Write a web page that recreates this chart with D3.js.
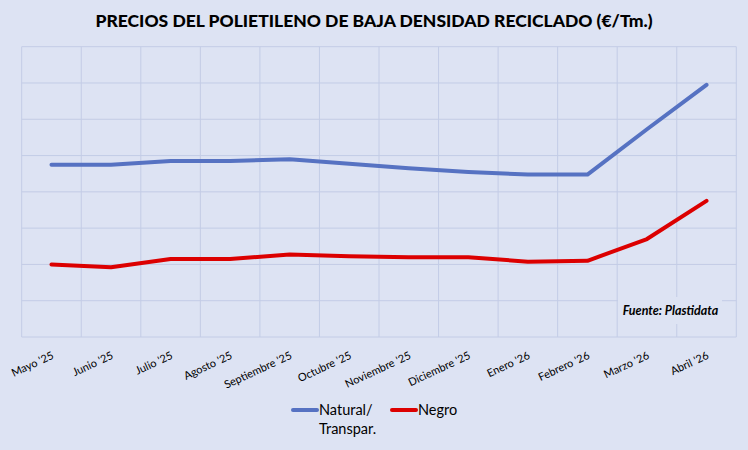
<!DOCTYPE html>
<html>
<head>
<meta charset="utf-8">
<script src="https://cdn.jsdelivr.net/npm/d3@7"></script>
<style>
  html, body { margin: 0; padding: 0; background: #dde3f3; }
  svg { display: block; font-family: Lato, "Open Sans", sans-serif; }
</style>
</head>
<body>
<div id="chart"></div>
<script>
// Meses del eje X
const months = ["Mayo '25", "Junio '25", "Julio '25", "Agosto '25", "Septiembre '25", "Octubre '25",
  "Noviembre '25", "Diciembre '25", "Enero '26", "Febrero '26", "Marzo '26", "Abril '26"];

// Precios estimados (€/Tm.)
const natural = [950, 950, 970, 970, 980, 955, 930, 910, 895, 895, 1145, 1390];
const negro = [400, 385, 430, 430, 455, 445, 440, 440, 415, 420, 540, 750];

const yTicks = [0, 200, 400, 600, 800, 1000, 1200, 1400, 1600];

const series = [
  { name: ["Natural/", "Transpar."], values: natural, color: "#5672c2" },
  { name: ["Negro"], values: negro, color: "#dc0000" }
];

const width = 748, height = 450;
const gridColor = "#c3cce6";

const svg = d3.select("#chart").append("svg")
  .attr("width", width)
  .attr("height", height);

svg.append("rect")
  .attr("width", width).attr("height", height)
  .attr("fill", "#dde3f3");

const x = d3.scaleBand().domain(months).range([21.7, 736.3]).padding(0);
const y = d3.scaleLinear().domain([0, 1600]).range([337, 46.7]);

// Title
svg.append("text")
  .attr("x", 374).attr("y", 27)
  .attr("text-anchor", "middle")
  .attr("font-size", 17.5)
  .attr("font-weight", "900")
  .attr("fill", "#000")
  .text("PRECIOS DEL POLIETILENO DE BAJA DENSIDAD RECICLADO (€/Tm.)");

// Horizontal grid
svg.append("g")
  .selectAll("line")
  .data(yTicks)
  .join("line")
  .attr("x1", x.range()[0]).attr("x2", x.range()[1])
  .attr("y1", d => y(d)).attr("y2", d => y(d))
  .attr("stroke", gridColor)
  .attr("stroke-width", 1);

// Vertical grid at category boundaries
const edges = months.map(m => x(m)).concat([x.range()[1]]);
svg.append("g")
  .selectAll("line")
  .data(edges)
  .join("line")
  .attr("x1", d => d).attr("x2", d => d)
  .attr("y1", y(1600)).attr("y2", y(0))
  .attr("stroke", gridColor)
  .attr("stroke-width", 1);

// Source label box
svg.append("rect")
  .attr("x", 618).attr("y", 297)
  .attr("width", 104).attr("height", 27)
  .attr("fill", "#dde3f3");
svg.append("text")
  .attr("x", 670.5).attr("y", 315)
  .attr("text-anchor", "middle")
  .attr("font-size", 12.5)
  .attr("font-weight", "bold")
  .attr("font-style", "italic")
  .attr("fill", "#000")
  .text("Fuente: Plastidata");

// Lines
const line = d3.line()
  .x((d, i) => x(months[i]) + x.bandwidth() / 2)
  .y(d => y(d));

svg.append("g")
  .selectAll("path")
  .data(series)
  .join("path")
  .attr("d", d => line(d.values))
  .attr("fill", "none")
  .attr("stroke", d => d.color)
  .attr("stroke-width", 4)
  .attr("stroke-linejoin", "round")
  .attr("stroke-linecap", "round");

// X labels, rotated
svg.append("g")
  .selectAll("text")
  .data(months)
  .join("text")
  .attr("text-anchor", "end")
  .attr("font-size", 11)
  .attr("fill", "#000")
  .attr("transform", d => `translate(${x(d) + x.bandwidth() / 2 + 3},358) rotate(-25)`)
  .text(d => d);

// Legend
const legend = svg.append("g");
const legendX = [293, 392];
series.forEach((s, i) => {
  const g = legend.append("g").attr("transform", `translate(${legendX[i]},410)`);
  g.append("line")
    .attr("x1", 0).attr("x2", 24)
    .attr("stroke", s.color)
    .attr("stroke-width", 4)
    .attr("stroke-linecap", "round");
  g.append("text")
    .attr("x", 26).attr("y", 5)
    .attr("font-size", 14.5)
    .attr("fill", "#000")
    .selectAll("tspan")
    .data(s.name)
    .join("tspan")
    .attr("x", 26)
    .attr("dy", (d, j) => j === 0 ? 0 : 19)
    .text(d => d);
});
</script>
</body>
</html>
